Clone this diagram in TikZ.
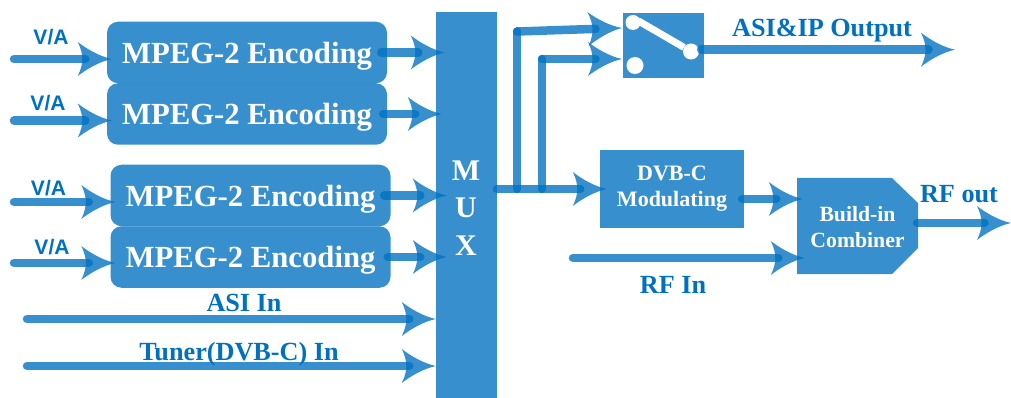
\documentclass[tikz,border=0pt]{standalone}
\usepackage{fontspec}
\setmainfont{Liberation Serif}
\newfontfamily\arialfont{Liberation Sans}
\definecolor{flowblue}{HTML}{0070C0}

\pgfdeclarearrow{
  name = Swept,
  setup code = {
    \pgfarrowssettipend{0pt}
    \pgfarrowssetlineend{-26.5pt}
    \pgfarrowssetvisualbackend{-29.5pt}
    \pgfarrowssetbackend{-34pt}
    \pgfarrowshullpoint{0pt}{0pt}
    \pgfarrowshullpoint{-34pt}{17pt}
    \pgfarrowshullpoint{-34pt}{-17pt}
  },
  drawing code = {
    \pgfpathmoveto{\pgfqpoint{0pt}{0pt}}
    \pgfpathcurveto{\pgfqpoint{-12pt}{2.5pt}}{\pgfqpoint{-25pt}{10pt}}{\pgfqpoint{-34pt}{17pt}}
    \pgfpathcurveto{\pgfqpoint{-31pt}{11pt}}{\pgfqpoint{-29.5pt}{5pt}}{\pgfqpoint{-29.5pt}{0pt}}
    \pgfpathcurveto{\pgfqpoint{-29.5pt}{-5pt}}{\pgfqpoint{-31pt}{-11pt}}{\pgfqpoint{-34pt}{-17pt}}
    \pgfpathcurveto{\pgfqpoint{-25pt}{-10pt}}{\pgfqpoint{-12pt}{-2.5pt}}{\pgfqpoint{0pt}{0pt}}
    \pgfpathclose
    \pgfusepathqfill
  }
}

\begin{document}
\begin{tikzpicture}[x=1pt,y=-1pt]
\tikzstyle{encoder}=[fill=flowblue, fill opacity=.78, text opacity=1, text=white, rounded corners=11pt, minimum width=280pt, minimum height=61.5pt, inner sep=0pt, text depth=0pt, font=\fontsize{30.7}{34}\selectfont\bfseries]
\tikzstyle{block}=[fill=flowblue, fill opacity=.78, text opacity=1, text=white, inner sep=0pt, align=center, font=\fontsize{22}{26}\selectfont\bfseries]
\tikzstyle{pole}=[circle, fill=white, inner sep=0pt]
\tikzstyle{wire}=[draw=flowblue, opacity=.78, line width=8.5pt, line cap=round]
\tikzstyle{flow}=[wire, -Swept]
\tikzstyle{via}=[text=flowblue, anchor=base, inner sep=0pt, font=\arialfont\fontsize{21}{21}\selectfont\bfseries]
\tikzstyle{tag}=[text=flowblue, anchor=base, inner sep=0pt, font=\fontsize{26.2}{26}\selectfont\bfseries]

\useasboundingbox (0,0) rectangle (1011,398);

\node[block, minimum width=61pt, minimum height=386pt] (mux) at (466.5,205) {};
\node[text=white, align=center, inner sep=0pt, font=\fontsize{30}{37.5}\selectfont\bfseries] (muxtext) at (466,208) {M\\U\\X};

\foreach \n/\x/\y/\vx/\vy/\ay in {1/247/52.5/51/45/59, 2/247/114/48/111/120.5, 3/250.5/195.5/48.5/195/202, 4/250.5/257/52/254/263} {
\node[encoder] (enc\n) at (\x,\y) {MPEG-2 Encoding};
\node[via] (via\n) at (\vx,\vy) {V/A};
\coordinate (src\n) at (14,\ay);
\draw[flow, shorten >=-5pt] (src\n) -- (src\n -| enc\n.west);
}

\draw[flow, shorten <=-6pt, shorten >=-9pt] (enc1.east) -- (enc1.east -| mux.west);
\draw[flow, shorten <=-4pt, shorten >=-6pt] (enc2.east) -- (enc2.east -| mux.west);
\draw[flow, shorten <=-6.5pt, shorten >=-11pt] (enc3.east) -- (enc3.east -| mux.west);
\draw[flow, shorten <=-3pt, shorten >=-11pt] (enc4.east) -- (enc4.east -| mux.west);

\coordinate (asi) at (27,319);
\coordinate (tuner) at (27,366);
\draw[flow] (asi) -- (asi -| mux.west);
\draw[flow] (tuner) -- (tuner -| mux.west);
\node[tag] (asitag) at (244,311) {ASI In};
\node[tag] (tunertag) at (239,360) {Tuner(DVB-C) In};

% switch
\node[block, minimum width=81pt, minimum height=65pt] (sw) at (663.5,45.5) {};
\node[pole, minimum size=15pt] (pole1) at (633,22.5) {};
\node[pole, minimum size=17pt] (pole2) at (635,65.5) {};
\node[pole, minimum size=16pt] (pole3) at (691,51.5) {};
\coordinate (armtop) at (638,20.7);
\draw[white, line width=7pt] (armtop) -- (pole3);

% modulator and combiner
\node[block, minimum width=144pt, minimum height=78pt] (mod) at (672,189) {DVB-C\\Modulating};
\fill[flowblue, opacity=.78] (797,178) -- (892,178) -- (918,203) -- (918,248) -- (892,274) -- (797,274) -- cycle;
\node[text=white, align=center, minimum width=121pt, minimum height=96pt, inner sep=0pt, font=\fontsize{21.7}{26}\selectfont\bfseries] (comb) at (857.5,227) {Build-in\\Combiner};

% mux output
\coordinate (muxout) at (497,189);
\coordinate (tee1) at (517,189);
\coordinate (tee2) at (542,189);
\coordinate (bend1) at (517,31.5);
\coordinate (bend2) at (542,59);
\coordinate (swin1) at (622,28);
\coordinate (swin2) at (622,59);
\draw[flow, shorten >=-7pt] (muxout) -- (muxout -| mod.west);
\draw[wire] (tee1) -- (bend1);
\draw[wire] (tee2) -- (bend2);
\draw[flow] (bend1) -- (swin1);
\draw[flow] (bend2) -- (swin2);

\coordinate (asiout) at (955,49.7);
\draw[flow, shorten <=-3pt] (sw.east |- asiout) -- (asiout);
\node[tag] (asiouttag) at (822,37) {ASI\&IP Output};

\coordinate (modout) at (mod.east |- 0,199);
\draw[flow, shorten <=-2pt, shorten >=-6pt] (modout) -- (modout -| comb.west);

\coordinate (rfin) at (573,258);
\draw[flow, shorten >=-8pt] (rfin) -- (rfin -| comb.west);
\node[tag] (rfintag) at (673,293) {RF In};

\coordinate (rfout) at (1011,223);
\draw[flow, shorten <=-1pt] (comb.east |- rfout) -- (rfout);
\node[tag] (rfouttag) at (959,203) {RF out};

\end{tikzpicture}
\end{document}
